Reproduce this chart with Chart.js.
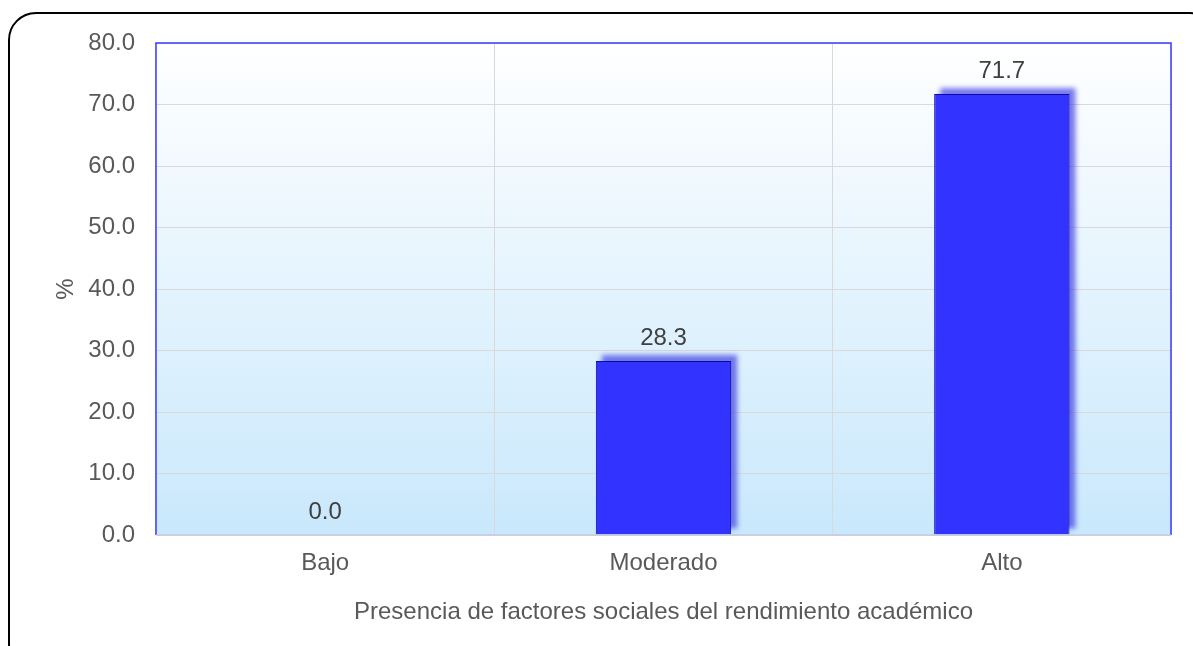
<!DOCTYPE html>
<html>
<head>
<meta charset="utf-8">
<script src="https://cdn.jsdelivr.net/npm/chart.js@4/dist/chart.umd.min.js"></script>
<style>
html,body{margin:0;padding:0;background:#fff;}
#wrap{position:absolute;left:0;top:0;width:1193px;height:646px;overflow:hidden;}
#frame{position:absolute;left:8px;top:12px;width:1210px;height:660px;border:2px solid #000;border-radius:28px;box-sizing:border-box;}
canvas{position:absolute;left:0;top:0;}
</style>
</head>
<body>
<div id="wrap">
<div id="frame"></div>
<canvas id="c" width="1193" height="646"></canvas>
</div>
<script>
const categories = ["Bajo", "Moderado", "Alto"];
const values = [0.0, 28.3, 71.7];
const yMin = 0, yMax = 80, yStep = 10;
const xTitle = "Presencia de factores sociales del rendimiento académico";
const yTitle = "%";

const FONT = "'Liberation Sans', Arial, sans-serif";
const FS = 24;

const bgPlugin = {
  id: 'bg',
  beforeDraw(chart) {
    const {ctx, chartArea: a} = chart;
    const g = ctx.createLinearGradient(0, a.top, 0, a.bottom);
    g.addColorStop(0, '#ffffff');
    g.addColorStop(1, '#c9e8fc');
    ctx.save();
    ctx.fillStyle = g;
    ctx.fillRect(a.left, a.top, a.right - a.left, a.bottom - a.top);
    ctx.restore();
  },
  beforeDatasetsDraw(chart) {
    const {ctx, chartArea: a} = chart;
    const meta = chart.getDatasetMeta(0);
    ctx.save();
    ctx.beginPath();
    ctx.rect(a.left, a.top, a.right - a.left, a.bottom - a.top);
    ctx.clip();
    ctx.filter = 'blur(2.5px)';
    ctx.fillStyle = 'rgba(50,50,225,0.65)';
    meta.data.forEach((el) => {
      const h = el.base - el.y;
      if (h <= 0.5) return;
      ctx.fillRect(el.x - el.width / 2 + 6, el.y - 6, el.width, h);
    });
    ctx.restore();
  },
  afterDraw(chart) {
    const {ctx, chartArea: a} = chart;
    ctx.save();
    ctx.lineWidth = 1.5;
    ctx.strokeStyle = '#3b3bff';
    ctx.beginPath();
    ctx.moveTo(a.left, a.bottom);
    ctx.lineTo(a.left, a.top);
    ctx.lineTo(a.right, a.top);
    ctx.lineTo(a.right, a.bottom);
    ctx.stroke();
    ctx.strokeStyle = '#c8c8e0';
    ctx.beginPath();
    ctx.moveTo(a.left, a.bottom);
    ctx.lineTo(a.right, a.bottom);
    ctx.stroke();
    const meta = chart.getDatasetMeta(0);
    ctx.fillStyle = '#404040';
    ctx.font = FS + 'px ' + FONT;
    ctx.textAlign = 'center';
    ctx.textBaseline = 'bottom';
    meta.data.forEach((el, i) => {
      ctx.fillText(values[i].toFixed(1), el.x, el.y - 11);
    });
    ctx.restore();
  }
};

new Chart(document.getElementById('c'), {
  type: 'bar',
  data: {
    labels: categories,
    datasets: [{
      data: values,
      backgroundColor: '#3333ff',
      borderColor: '#0a0aa0',
      borderWidth: 1,
      categoryPercentage: 1.0,
      barPercentage: 0.4
    }]
  },
  options: {
    responsive: false,
    animation: false,
    layout: { padding: { left: 0, top: 43, right: 22, bottom: 0 } },
    plugins: { legend: { display: false }, tooltip: { enabled: false } },
    scales: {
      x: {
        grid: { display: true, offset: true, color: '#d9d9d9', drawTicks: false },
        border: { display: false },
        ticks: { color: '#595959', font: { family: FONT, size: FS }, padding: 14 },
        title: { display: true, text: xTitle, color: '#595959', font: { family: FONT, size: FS }, padding: { top: 0, bottom: 19 } },
        afterFit(s) { s.height = 111; }
      },
      y: {
        min: yMin, max: yMax,
        grid: { color: '#d9d9d9', drawTicks: false },
        border: { display: false },
        ticks: { stepSize: yStep, color: '#595959', font: { family: FONT, size: FS }, padding: 21,
          callback: v => Number(v).toFixed(1) },
        title: { display: true, text: yTitle, color: '#595959', font: { family: FONT, size: FS }, padding: { top: 52, bottom: 0 } },
        afterFit(s) { s.width = 156; }
      }
    }
  },
  plugins: [bgPlugin]
});
</script>
</body>
</html>
